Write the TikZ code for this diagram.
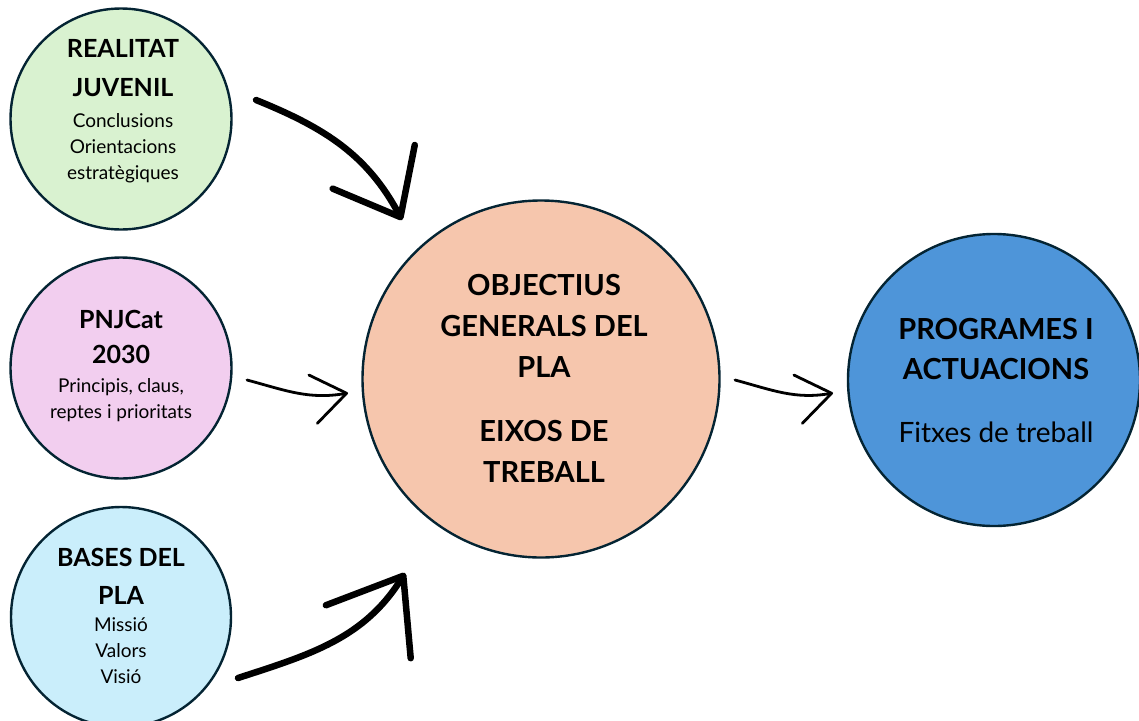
\documentclass[tikz,border=0pt]{standalone}
\usepackage{fontspec}
\setmainfont{Lato}
\usetikzlibrary{arrows.meta,calc}
\definecolor{rim}{HTML}{042433}
\definecolor{greenfill}{HTML}{D9F2D0}
\definecolor{pinkfill}{HTML}{F2CEEF}
\definecolor{skyfill}{HTML}{CAEEFB}
\definecolor{peachfill}{HTML}{F6C6AD}
\definecolor{bluefill}{HTML}{4E95D9}
\tikzset{
  bubble/.style={circle, draw=rim, line width=2.4pt, inner sep=0pt},
  txt/.style={align=center, text=black, font=\fontsize{19}{26}\selectfont},
  brush/.style={-{Straight Barb[round]}, line width=6.5pt, line cap=round, line join=round},
  thinbrush/.style={-{Straight Barb[round, length=34pt, width=49pt]}, line width=2.8pt,
    line cap=round, line join=round}
}
\newcommand{\ttl}[1]{{\bfseries\fontsize{25}{30}\selectfont #1}}
\newcommand{\bigttl}[1]{{\bfseries\fontsize{29}{30}\selectfont #1}}

\begin{document}
\begin{tikzpicture}[x=1pt, y=1pt]
  \useasboundingbox (0,0) rectangle (1139,-720);
  % circles
  \node[bubble, fill=greenfill, minimum size=221pt] (real) at (121,-119) {};
  \node[bubble, fill=pinkfill, minimum size=221pt] (pnj) at (121,-368) {};
  \node[bubble, fill=skyfill, minimum size=220pt] (bases) at (121,-617) {};
  \node[bubble, fill=peachfill, minimum size=357pt] (obj) at (541,-379) {};
  \node[bubble, fill=bluefill, minimum size=292pt] (prog) at (994,-380) {};

  % texts
  \node[txt] (real-txt) at (123,-111)
    {\ttl{REALITAT}\\[13pt]\ttl{JUVENIL}\\[5pt]Conclusions\\Orientacions\\estratègiques};
  \node[txt] (pnj-txt) at (121,-366)
    {\ttl{PNJCat}\\[9pt]\ttl{2030}\\[3pt]Principis, claus,\\reptes i prioritats};
  \node[txt] (bases-txt) at (121,-616)
    {\ttl{BASES DEL}\\[12pt]\ttl{PLA}\\[1pt]Missió\\Valors\\Visió};
  \node[txt, font=\fontsize{29}{41}\selectfont] (obj-txt) at (544,-378)
    {\bigttl{OBJECTIUS}\\\bigttl{GENERALS DEL}\\\bigttl{PLA}\\[23pt]\bigttl{EIXOS DE}\\\bigttl{TREBALL}};
  \node[txt, font=\fontsize{28}{40}\selectfont] (prog-txt) at (996,-381)
    {\bigttl{PROGRAMES I}\\\bigttl{ACTUACIONS}\\[23pt]Fitxes de treball};

  % brush arrows
  \coordinate (real-out) at (256,-100);
  \coordinate (obj-in1) at (402,-220);
  \coordinate (pnj-out) at (247,-380);
  \coordinate (obj-in2) at (348,-393);
  \coordinate (bases-out) at (238,-678);
  \coordinate (obj-in3) at (405,-573);
  \coordinate (obj-out) at (735,-380);
  \coordinate (prog-in) at (833,-393);
  \draw[brush, -{Straight Barb[round, length=57pt, width=93pt]}]
    (real-out) to[out=-22, in=118] (obj-in1);
  \draw[thinbrush] (pnj-out) to[out=-15, in=190] (obj-in2);
  \draw[brush, -{Straight Barb[round, length=66pt, width=100pt]}]
    (bases-out) to[out=18, in=238] (obj-in3);
  \draw[thinbrush] (obj-out) to[out=-15, in=190] (prog-in);
\end{tikzpicture}
\end{document}
